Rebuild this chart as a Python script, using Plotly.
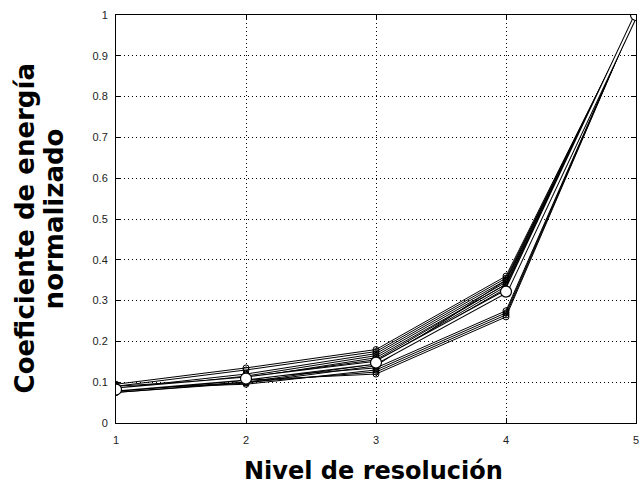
import plotly.graph_objects as go

levels = [1, 2, 3, 4, 5]
series = [
    [0.095, 0.135, 0.180, 0.360, 1.0],
    [0.090, 0.130, 0.175, 0.355, 1.0],
    [0.085, 0.120, 0.170, 0.350, 1.0],
    [0.080, 0.115, 0.165, 0.345, 1.0],
    [0.080, 0.110, 0.160, 0.340, 1.0],
    [0.078, 0.105, 0.150, 0.335, 1.0],
    [0.075, 0.100, 0.145, 0.330, 1.0],
    [0.082, 0.112, 0.155, 0.340, 1.0],
    [0.075, 0.098, 0.140, 0.350, 1.0],
    [0.085, 0.095, 0.130, 0.270, 1.0],
    [0.080, 0.100, 0.125, 0.265, 1.0],
    [0.078, 0.105, 0.120, 0.260, 1.0],
    [0.090, 0.110, 0.135, 0.275, 1.0],
]
mean_vals = [0.082, 0.109, 0.148, 0.322, 1.0]
y_ticks = [0, 0.1, 0.2, 0.3, 0.4, 0.5, 0.6, 0.7, 0.8, 0.9, 1]
y_tick_labels = ["0", "0.1", "0.2", "0.3", "0.4", "0.5", "0.6", "0.7", "0.8", "0.9", "1"]

fig = go.Figure()
for s in series:
    fig.add_trace(go.Scatter(
        x=levels, y=s, mode="lines+markers",
        line=dict(color="black", width=1),
        marker=dict(symbol="circle-open", size=6, color="black", line=dict(width=1)),
        showlegend=False, hoverinfo="skip"))
fig.add_trace(go.Scatter(
    x=levels, y=mean_vals, mode="lines",
    line=dict(color="black", width=4), showlegend=False, hoverinfo="skip"))
fig.add_trace(go.Scatter(
    x=levels, y=mean_vals, mode="lines+markers",
    line=dict(color="white", width=2),
    marker=dict(symbol="circle", size=11, color="white", line=dict(color="black", width=1.2)),
    showlegend=False, hoverinfo="skip"))

axis_common = dict(
    showline=True, linecolor="black", linewidth=1, mirror="ticks",
    ticks="inside", ticklen=5, tickcolor="black",
    showgrid=True, gridcolor="black", griddash="1px,3px", gridwidth=1,
    zeroline=False, tickfont=dict(family="Liberation Sans, Arial", size=11, color="#222"),
)
fig.update_xaxes(range=[1, 5], tickvals=levels, ticktext=[str(v) for v in levels],
                 ticklabelstandoff=7, **axis_common)
fig.update_yaxes(range=[0, 1], tickvals=y_ticks, ticktext=y_tick_labels,
                 ticklabelstandoff=5, **axis_common)

title_font = "DejaVu Sans"
fig.update_layout(
    width=643, height=484,
    margin=dict(l=116, r=4, t=15, b=61),
    paper_bgcolor="white", plot_bgcolor="white",
    annotations=[
        dict(text="<b>Coeficiente de energía</b>", xref="paper", yref="paper",
             x=-0.176, y=0.478, xanchor="center", yanchor="middle", textangle=-90,
             showarrow=False, font=dict(family=title_font, size=26, color="black")),
        dict(text="<b>normalizado</b>", xref="paper", yref="paper",
             x=-0.1185, y=0.50, xanchor="center", yanchor="middle", textangle=-90,
             showarrow=False, font=dict(family=title_font, size=26, color="black")),
        dict(text="<b>Nivel de resolución</b>", xref="paper", yref="paper",
             x=0.495, y=-0.117, xanchor="center", yanchor="middle",
             showarrow=False, font=dict(family=title_font, size=24, color="black")),
    ],
)
fig.write_html("out.html")
